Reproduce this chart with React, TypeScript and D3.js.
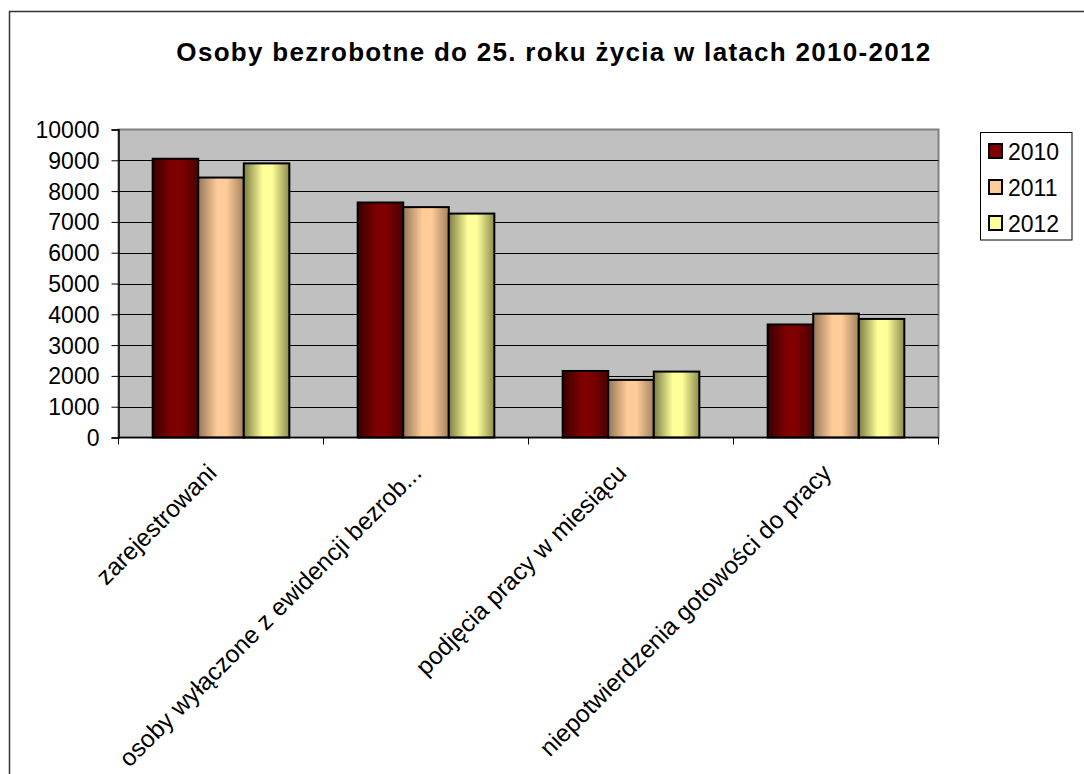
import React, { useRef, useEffect, FC } from "react";
import * as d3 from "d3";

const categories = [
  "zarejestrowani",
  "osoby wyłączone z ewidencji bezrob...",
  "podjęcia pracy w miesiącu",
  "niepotwierdzenia gotowości do pracy",
];
const years = ["2010", "2011", "2012"];
const values2010 = [9050, 7630, 2160, 3670];
const values2011 = [8440, 7480, 1870, 4020];
const values2012 = [8900, 7270, 2140, 3850];
const yTicks = [0, 1000, 2000, 3000, 4000, 5000, 6000, 7000, 8000, 9000, 10000];

// left edge, middle, right edge of the bar shading
const shades = [
  ["#380000", "#800000", "#4a0000"],
  ["#967758", "#ffcc99", "#a3835f"],
  ["#7c7c45", "#ffff99", "#8c8c50"],
];

const App: FC = () => {
  const chartRef = useRef(null);

  useEffect(() => {
    const container = d3.select(chartRef.current);
    container.select("svg").remove();

    const width = 1084;
    const height = 774;
    const font = "'Liberation Sans', Arial, sans-serif";

    const svg = container
      .append("svg")
      .attr("width", width)
      .attr("height", height)
      .style("position", "absolute")
      .style("left", "0px")
      .style("top", "0px")
      .style("background", "#fff");

    // outer chart frame (runs off the right and bottom)
    svg
      .append("rect")
      .attr("x", 9.5)
      .attr("y", 11.5)
      .attr("width", 1100)
      .attr("height", 800)
      .attr("fill", "none")
      .attr("stroke", "#333")
      .attr("stroke-width", 1.5);

    const series = [values2010, values2011, values2012];

    const defs = svg.append("defs");
    shades.forEach((s, i) => {
      const g = defs
        .append("linearGradient")
        .attr("id", "grad" + i)
        .attr("x1", "0%")
        .attr("x2", "100%")
        .attr("y1", "0%")
        .attr("y2", "0%");
      g.append("stop").attr("offset", "0%").attr("stop-color", s[0]);
      g.append("stop").attr("offset", "42%").attr("stop-color", s[1]);
      g.append("stop").attr("offset", "62%").attr("stop-color", s[1]);
      g.append("stop").attr("offset", "100%").attr("stop-color", s[2]);
    });

    // plot area
    const left = 118.5;
    const right = 938.5;
    const top = 129.5;
    const bottom = 437.5;

    const xScale = d3.scaleBand().domain(categories).range([left, right]).padding(0);
    const inner = d3
      .scaleBand()
      .domain(years)
      .range([0, xScale.bandwidth()])
      .paddingInner(0)
      .paddingOuter(0.75);
    const yScale = d3.scaleLinear().domain([0, 10000]).range([bottom, top]);

    svg
      .append("rect")
      .attr("x", left)
      .attr("y", top)
      .attr("width", right - left)
      .attr("height", bottom - top)
      .attr("fill", "#c0c0c0")
      .attr("stroke", "#808080")
      .attr("stroke-width", 2);

    // gridlines
    svg
      .append("g")
      .selectAll("line")
      .data(yTicks.filter((t) => t > 0 && t < 10000))
      .enter()
      .append("line")
      .attr("x1", left)
      .attr("x2", right)
      .attr("y1", (d) => Math.round(yScale(d)) + 0.5)
      .attr("y2", (d) => Math.round(yScale(d)) + 0.5)
      .attr("stroke", "#000")
      .attr("stroke-width", 1);

    // bars
    series.forEach((vals, si) => {
      svg
        .append("g")
        .selectAll("rect")
        .data(vals)
        .enter()
        .append("rect")
        .attr("x", (d, i) => (xScale(categories[i]) as number) + (inner(years[si]) as number))
        .attr("y", (d) => yScale(d))
        .attr("width", inner.bandwidth())
        .attr("height", (d) => bottom - yScale(d))
        .attr("fill", `url(#grad${si})`)
        .attr("stroke", "#000")
        .attr("stroke-width", 2);
    });

    // y axis
    const yAxis = d3.axisLeft(yScale).tickValues(yTicks).tickSize(7).tickPadding(12).tickFormat(d3.format("d"));
    const gy = svg.append("g").attr("transform", `translate(${left}, 0)`).call(yAxis);
    gy.select(".domain").attr("stroke", "#000").attr("stroke-width", 1.5);
    gy.selectAll(".tick line").attr("stroke", "#000");
    gy.selectAll(".tick text")
      .attr("font-family", font)
      .attr("font-size", 23)
      .attr("fill", "#000")
      .attr("dy", "0.35em");

    // x axis: ticks on category boundaries
    svg
      .append("line")
      .attr("x1", left)
      .attr("x2", right)
      .attr("y1", bottom)
      .attr("y2", bottom)
      .attr("stroke", "#000")
      .attr("stroke-width", 1.5);
    const boundaries = categories.map((c) => xScale(c) as number).concat([right]);
    svg
      .append("g")
      .selectAll("line")
      .data(boundaries)
      .enter()
      .append("line")
      .attr("x1", (d) => d)
      .attr("x2", (d) => d)
      .attr("y1", bottom)
      .attr("y2", bottom + 7)
      .attr("stroke", "#000");

    svg
      .append("g")
      .selectAll("text")
      .data(categories)
      .enter()
      .append("text")
      .attr("transform", (d) => `translate(${(xScale(d) as number) + xScale.bandwidth() / 2 - 3}, ${bottom + 37}) rotate(-45)`)
      .attr("text-anchor", "end")
      .attr("font-family", font)
      .attr("font-size", 24.5)
      .attr("fill", "#000")
      .text((d) => d);

    // title
    svg
      .append("text")
      .attr("x", 554)
      .attr("y", 61)
      .attr("text-anchor", "middle")
      .attr("font-family", font)
      .attr("font-size", 26)
      .attr("font-weight", "bold")
      .attr("letter-spacing", 1.3)
      .attr("fill", "#000")
      .text("Osoby bezrobotne do 25. roku życia w latach 2010-2012");

    // legend
    const legend = svg.append("g");
    legend
      .append("rect")
      .attr("x", 980.5)
      .attr("y", 132.5)
      .attr("width", 91.5)
      .attr("height", 107.5)
      .attr("fill", "#fff")
      .attr("stroke", "#000")
      .attr("stroke-width", 1);
    const legendY = d3.scalePoint().domain(years).range([151, 223]);
    legend
      .selectAll("rect.swatch")
      .data(years)
      .enter()
      .append("rect")
      .attr("class", "swatch")
      .attr("x", 989)
      .attr("y", (d) => (legendY(d) as number) - 7)
      .attr("width", 13)
      .attr("height", 14)
      .attr("fill", (d, i) => shades[i][1])
      .attr("stroke", "#000")
      .attr("stroke-width", 2);
    legend
      .selectAll("text")
      .data(years)
      .enter()
      .append("text")
      .attr("x", 1008)
      .attr("y", (d) => (legendY(d) as number) + 8.5)
      .attr("font-family", font)
      .attr("font-size", 23)
      .attr("fill", "#000")
      .text((d) => d);
  }, []);

  return <div ref={chartRef} />;
};

export default App;
